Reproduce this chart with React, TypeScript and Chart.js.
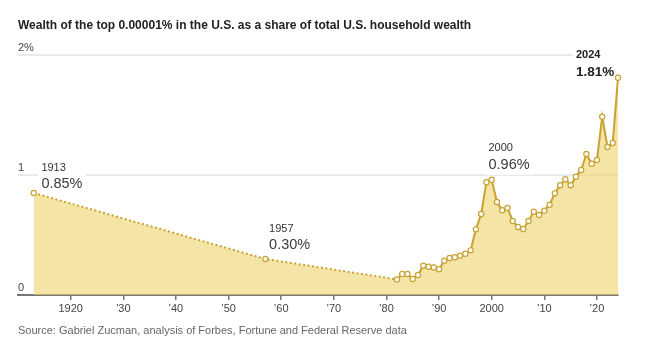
import React, { useEffect, useRef } from "react";
import { Chart, registerables } from "chart.js";

Chart.register(...registerables);

const TITLE = "Wealth of the top 0.00001% in the U.S. as a share of total U.S. household wealth";
const SOURCE = "Source: Gabriel Zucman, analysis of Forbes, Fortune and Federal Reserve data";

const years = [
  1913, 1957, 1982, 1983, 1984, 1985, 1986, 1987, 1988, 1989, 1990, 1991, 1992, 1993, 1994,
  1995, 1996, 1997, 1998, 1999, 2000, 2001, 2002, 2003, 2004, 2005, 2006, 2007, 2008, 2009,
  2010, 2011, 2012, 2013, 2014, 2015, 2016, 2017, 2018, 2019, 2020, 2021, 2022, 2023, 2024,
];
const shares = [
  0.85, 0.30, 0.13, 0.175, 0.175, 0.133, 0.167, 0.244, 0.236, 0.23, 0.214, 0.286, 0.308, 0.314, 0.328,
  0.344, 0.372, 0.547, 0.675, 0.94, 0.96, 0.775, 0.706, 0.725, 0.617, 0.567, 0.55, 0.617, 0.694, 0.667,
  0.703, 0.753, 0.847, 0.914, 0.964, 0.914, 0.986, 1.042, 1.175, 1.094, 1.125, 1.486, 1.233, 1.267, 1.81,
];
const xTicks = [1920, 1930, 1940, 1950, 1960, 1970, 1980, 1990, 2000, 2010, 2020];
const yTicks = [0, 1, 2];
const annotatedYears = [1913, 1957, 2000, 2024];
const annotationBold = [false, false, false, true];
const annotationDx = [7.6, 3.7, -3.2, -42];
const annotationDy = [-9, -14, -15, -5.5];

const FONT = "'Liberation Sans', Arial, sans-serif";
const LINE = "#c8a332";

const annotationPlugin = {
  id: "annotations",
  beforeDatasetsDraw(chart: any) {
    const ctx = chart.ctx;
    const xs = chart.scales.x;
    const ys = chart.scales.y;
    ctx.save();
    annotatedYears.forEach((yr, i) => {
      const idx = years.indexOf(yr);
      const v = shares[idx];
      const bold = annotationBold[i];
      const x = xs.getPixelForValue(yr) + annotationDx[i];
      const yv = ys.getPixelForValue(v) + annotationDy[i];
      const yy = yv - (bold ? 17 : 16.5);
      const yearFont = `${bold ? "bold " : ""}11px ${FONT}`;
      const valFont = `${bold ? "bold 13.5px" : "14.5px"} ${FONT}`;
      const yearText = String(yr);
      const valText = v.toFixed(2) + "%";
      ctx.font = yearFont;
      const w1 = ctx.measureText(yearText).width;
      ctx.font = valFont;
      const w2 = ctx.measureText(valText).width;
      const w = Math.max(w1, w2);
      ctx.fillStyle = "#ffffff";
      ctx.fillRect(x - 3.5, yy - 7, w + 7, yv + 10 - (yy - 7));
      ctx.textAlign = "left";
      ctx.textBaseline = "middle";
      ctx.fillStyle = bold ? "#222" : "#333";
      ctx.font = yearFont;
      ctx.fillText(yearText, x, yy);
      ctx.fillStyle = bold ? "#222" : "#3a3a3a";
      ctx.font = valFont;
      ctx.fillText(valText, x, yv);
    });
    ctx.restore();
  },
};

export default function App() {
  const ref = useRef<HTMLCanvasElement>(null);
  useEffect(() => {
    document.body.style.margin = "0";
    const chart = new Chart(ref.current as HTMLCanvasElement, {
      type: "line",
      data: {
        datasets: [
          {
            data: years.map((y, i) => ({ x: y, y: shares[i] })),
            borderColor: LINE,
            borderWidth: 2,
            backgroundColor: "rgba(237,210,105,0.6)",
            fill: "origin",
            tension: 0,
            pointRadius: 2.6,
            pointBorderWidth: 1.2,
            pointBackgroundColor: "#ffffff",
            pointBorderColor: LINE,
            borderCapStyle: "butt",
            clip: false as any,
            segment: {
              borderDash: (c: any) => (c.p1DataIndex <= 2 ? [2, 2.5] : []),
            },
          } as any,
        ],
      },
      options: {
        responsive: false,
        animation: false,
        events: [],
        layout: { padding: { left: 18, right: 37, top: 0, bottom: 18.4 } },
        plugins: {
          legend: { display: false },
          tooltip: { enabled: false },
          title: {
            display: true,
            text: TITLE,
            align: "start",
            color: "#222",
            font: { family: FONT, size: 12, weight: "bold", lineHeight: 1.2 },
            padding: { top: 18.8, bottom: 21.8 },
          },
          subtitle: {
            display: true,
            text: SOURCE,
            position: "bottom",
            align: "start",
            color: "#666",
            font: { family: FONT, size: 11, lineHeight: 1.2 },
            padding: { top: 6.4, bottom: 0 },
          },
        },
        scales: {
          x: {
            type: "linear",
            min: 1910,
            max: 2024,
            z: 1,
            afterBuildTicks: (s: any) => {
              s.ticks = xTicks.map((v) => ({ value: v }));
            },
            ticks: {
              autoSkip: false,
              maxRotation: 0,
              padding: 2.4,
              color: "#444",
              font: { family: FONT, size: 11, lineHeight: 1.2 },
              callback: (v: any) => {
                const n = Number(v);
                if (n === 1920 || n === 2000) return String(n);
                return "\u2019" + String(n).slice(2);
              },
            },
            grid: { drawOnChartArea: false, drawTicks: true, tickLength: 5, color: "#777", lineWidth: 1.5 },
            border: { display: true, color: "#777", width: 2 },
          },
          y: {
            min: 0,
            max: 2,
            afterBuildTicks: (s: any) => {
              s.ticks = yTicks.map((v) => ({ value: v }));
            },
            ticks: {
              mirror: true,
              padding: 0,
              labelOffset: -7,
              color: "#444",
              font: { family: FONT, size: 11, lineHeight: 1.2 },
              callback: (v: any) => (Number(v) === 2 ? "2%" : String(v)),
            },
            grid: {
              drawTicks: false,
              color: (c: any) => (c.tick && c.tick.value === 0 ? "rgba(0,0,0,0)" : "#e9e9e9"),
              lineWidth: 2,
            },
            border: { display: false },
          },
        },
      },
      plugins: [annotationPlugin],
    } as any);
    return () => chart.destroy();
  }, []);
  return (
    <div style={{ width: 655, height: 356 }}>
      <canvas ref={ref} width={655} height={356} style={{ display: "block" }} />
    </div>
  );
}
